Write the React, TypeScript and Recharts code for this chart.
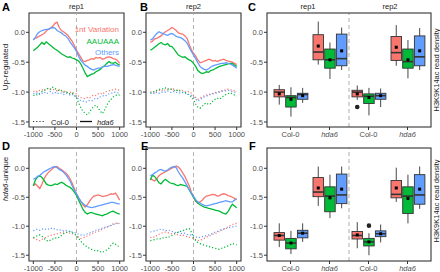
import React from "react";
import {
  LineChart, Line, BarChart, Bar, XAxis, YAxis, ReferenceLine, ReferenceArea,
} from "recharts";

const FONT = "'Liberation Sans', Arial, Helvetica, sans-serif";
const RED = "#F8766D";
const GREEN = "#00BA38";
const BLUE = "#619CFF";
const INK = "#333333";
const TICK_TXT = "#4D4D4D";
const W = 440;
const H = 272;
const XH = 14;

// distance to site (bp)
const positions = [-1000, -950, -900, -850, -800, -750, -700, -650, -600, -550, -500, -450, -400, -350, -300, -250, -200, -150, -100, -50, 0, 50, 100, 150, 200, 250, 300, 350, 400, 450, 500, 550, 600, 650, 700, 750, 800, 850, 900, 950, 1000];
const xTicks = [-1000, -500, 0, 500, 1000];
const yTicks = [-1.5, -1, -0.5, 0];

// A: rep1, up-regulated
const aRedHda6 = [-0.12, -0.10, -0.08, -0.06, -0.04, -0.02, 0.02, 0.05, 0.07, 0.10, 0.15, 0.17, 0.08, 0.03, 0.01, -0.02, -0.05, -0.10, -0.15, -0.22, -0.30, -0.36, -0.42, -0.48, -0.49, -0.47, -0.46, -0.44, -0.45, -0.42, -0.43, -0.42, -0.45, -0.44, -0.42, -0.41, -0.42, -0.44, -0.45, -0.47, -0.52];
const aGreenHda6 = [-0.31, -0.28, -0.25, -0.21, -0.17, -0.20, -0.16, -0.19, -0.22, -0.25, -0.28, -0.30, -0.33, -0.36, -0.38, -0.40, -0.42, -0.41, -0.43, -0.44, -0.46, -0.48, -0.53, -0.60, -0.68, -0.74, -0.72, -0.70, -0.69, -0.66, -0.64, -0.62, -0.58, -0.56, -0.52, -0.49, -0.51, -0.52, -0.50, -0.53, -0.55];
const aBlueHda6 = [-0.13, -0.08, -0.02, 0.01, 0.03, 0.04, 0.05, 0.05, 0.07, 0.08, 0.07, 0.03, 0.01, -0.01, -0.04, -0.06, -0.10, -0.16, -0.21, -0.26, -0.32, -0.40, -0.47, -0.51, -0.55, -0.57, -0.60, -0.62, -0.63, -0.61, -0.60, -0.60, -0.58, -0.57, -0.57, -0.56, -0.55, -0.54, -0.55, -0.56, -0.57];
const aRedCol = [-0.99, -0.98, -1.00, -0.97, -0.96, -0.98, -0.95, -0.94, -0.96, -0.95, -0.97, -0.98, -0.96, -0.99, -1.00, -0.98, -1.01, -1.00, -1.02, -1.01, -1.03, -1.07, -1.09, -1.10, -1.11, -1.09, -1.10, -1.07, -1.05, -1.06, -1.03, -1.02, -1.04, -1.00, -0.99, -0.98, -0.97, -0.96, -0.95, -0.96, -0.97];
const aGreenCol = [-1.06, -1.04, -1.05, -1.02, -0.99, -0.97, -0.95, -0.93, -0.95, -0.92, -0.94, -0.96, -0.98, -0.97, -1.00, -0.99, -1.01, -1.03, -1.02, -1.05, -1.10, -1.18, -1.26, -1.32, -1.36, -1.38, -1.34, -1.28, -1.24, -1.22, -1.26, -1.32, -1.36, -1.30, -1.22, -1.16, -1.12, -1.08, -1.06, -1.04, -1.05];
const aBlueCol = [-1.02, -1.03, -1.01, -1.04, -1.02, -1.00, -1.03, -1.01, -0.99, -1.02, -1.00, -1.03, -1.01, -1.02, -1.04, -1.02, -1.03, -1.05, -1.04, -1.06, -1.08, -1.12, -1.14, -1.15, -1.17, -1.16, -1.14, -1.15, -1.12, -1.10, -1.11, -1.08, -1.07, -1.05, -1.06, -1.03, -1.02, -1.01, -1.00, -1.01, -1.02];

// B: rep2, up-regulated
const bRedHda6 = [-0.17, -0.15, -0.11, -0.10, -0.08, -0.06, -0.02, 0.01, 0.03, 0.05, 0.08, 0.06, 0.03, -0.01, -0.02, -0.03, -0.06, -0.10, -0.20, -0.29, -0.35, -0.40, -0.46, -0.51, -0.50, -0.48, -0.47, -0.45, -0.46, -0.48, -0.47, -0.49, -0.47, -0.46, -0.45, -0.47, -0.48, -0.49, -0.50, -0.52, -0.54];
const bGreenHda6 = [-0.30, -0.28, -0.25, -0.22, -0.19, -0.17, -0.20, -0.21, -0.19, -0.23, -0.24, -0.28, -0.33, -0.38, -0.40, -0.42, -0.41, -0.44, -0.46, -0.48, -0.52, -0.57, -0.64, -0.67, -0.69, -0.68, -0.66, -0.67, -0.64, -0.63, -0.61, -0.59, -0.57, -0.56, -0.55, -0.54, -0.53, -0.52, -0.52, -0.55, -0.57];
const bBlueHda6 = [-0.13, -0.11, -0.06, -0.02, 0.01, -0.01, -0.02, -0.04, -0.05, -0.03, -0.02, -0.04, -0.07, -0.08, -0.09, -0.11, -0.14, -0.18, -0.25, -0.32, -0.38, -0.44, -0.51, -0.57, -0.60, -0.62, -0.63, -0.61, -0.58, -0.56, -0.55, -0.54, -0.53, -0.52, -0.52, -0.51, -0.52, -0.53, -0.55, -0.57, -0.60];
const bRedCol = [-1.00, -0.99, -1.01, -0.98, -0.97, -0.99, -0.96, -0.97, -0.95, -0.96, -0.94, -0.95, -0.97, -0.96, -0.98, -0.97, -0.99, -1.00, -0.99, -1.02, -1.05, -1.09, -1.12, -1.10, -1.08, -1.06, -1.05, -1.03, -1.04, -1.02, -1.01, -1.00, -0.99, -0.98, -0.97, -0.96, -0.95, -0.96, -0.97, -0.98, -0.99];
const bGreenCol = [-1.02, -1.00, -0.99, -0.97, -0.96, -0.94, -0.95, -0.93, -0.94, -0.96, -0.95, -0.97, -0.98, -0.96, -0.99, -1.01, -1.00, -1.03, -1.05, -1.08, -1.13, -1.20, -1.25, -1.27, -1.24, -1.20, -1.18, -1.21, -1.19, -1.15, -1.12, -1.10, -1.12, -1.09, -1.06, -1.04, -1.03, -1.01, -1.03, -1.05, -1.07];
const bBlueCol = [-1.02, -1.01, -1.03, -1.00, -1.02, -1.01, -0.99, -1.00, -0.98, -1.00, -1.01, -0.99, -1.00, -1.02, -1.01, -1.00, -1.02, -1.03, -1.04, -1.05, -1.08, -1.12, -1.15, -1.13, -1.10, -1.08, -1.07, -1.05, -1.04, -1.03, -1.02, -1.01, -1.00, -0.99, -0.98, -0.98, -0.97, -0.98, -0.99, -1.00, -1.01];

// D: rep1, hda6-unique
const dRedHda6 = [-0.30, -0.27, -0.31, -0.35, -0.27, -0.18, -0.12, -0.07, -0.04, 0.00, 0.02, 0.03, 0.00, -0.02, -0.05, -0.08, -0.12, -0.18, -0.26, -0.35, -0.44, -0.51, -0.57, -0.63, -0.67, -0.63, -0.57, -0.52, -0.48, -0.47, -0.46, -0.47, -0.49, -0.48, -0.47, -0.46, -0.44, -0.45, -0.43, -0.48, -0.55];
const dGreenHda6 = [-0.30, -0.20, -0.15, -0.13, -0.16, -0.21, -0.27, -0.29, -0.30, -0.29, -0.27, -0.28, -0.26, -0.24, -0.26, -0.29, -0.31, -0.33, -0.36, -0.41, -0.47, -0.55, -0.63, -0.71, -0.76, -0.79, -0.77, -0.76, -0.78, -0.79, -0.80, -0.81, -0.82, -0.80, -0.79, -0.77, -0.75, -0.74, -0.76, -0.78, -0.79];
const dBlueHda6 = [-0.19, -0.17, -0.14, -0.12, -0.09, -0.06, -0.04, -0.02, 0.00, 0.02, 0.03, 0.01, -0.02, -0.04, -0.07, -0.11, -0.16, -0.22, -0.30, -0.38, -0.44, -0.51, -0.57, -0.61, -0.64, -0.66, -0.67, -0.68, -0.67, -0.66, -0.65, -0.64, -0.63, -0.62, -0.61, -0.60, -0.59, -0.59, -0.60, -0.61, -0.62];
const dRedCol = [-1.20, -1.22, -1.24, -1.25, -1.23, -1.21, -1.19, -1.17, -1.16, -1.15, -1.14, -1.13, -1.12, -1.11, -1.10, -1.11, -1.10, -1.12, -1.13, -1.14, -1.16, -1.19, -1.21, -1.20, -1.19, -1.17, -1.15, -1.13, -1.11, -1.10, -1.09, -1.07, -1.05, -1.03, -1.02, -1.00, -0.98, -0.96, -0.95, -0.94, -0.96];
const dGreenCol = [-1.20, -1.18, -1.16, -1.15, -1.17, -1.21, -1.24, -1.26, -1.24, -1.22, -1.20, -1.21, -1.19, -1.16, -1.13, -1.11, -1.10, -1.09, -1.11, -1.13, -1.16, -1.21, -1.26, -1.30, -1.33, -1.36, -1.38, -1.40, -1.41, -1.43, -1.42, -1.44, -1.45, -1.43, -1.41, -1.38, -1.33, -1.29, -1.31, -1.34, -1.35];
const dBlueCol = [-1.08, -1.06, -1.05, -1.07, -1.05, -1.04, -1.06, -1.05, -1.03, -1.05, -1.04, -1.06, -1.07, -1.06, -1.08, -1.07, -1.09, -1.08, -1.10, -1.11, -1.12, -1.14, -1.15, -1.16, -1.15, -1.13, -1.12, -1.10, -1.09, -1.07, -1.06, -1.05, -1.03, -1.02, -1.01, -1.00, -0.99, -0.97, -0.96, -0.95, -0.96];

// E: rep2, hda6-unique
const eRedHda6 = [-0.18, -0.20, -0.22, -0.18, -0.13, -0.10, -0.08, -0.06, -0.04, -0.02, 0.00, 0.02, 0.04, 0.02, -0.02, -0.08, -0.14, -0.22, -0.30, -0.41, -0.50, -0.57, -0.60, -0.58, -0.55, -0.51, -0.48, -0.47, -0.46, -0.45, -0.46, -0.48, -0.47, -0.45, -0.44, -0.45, -0.47, -0.48, -0.50, -0.52, -0.54];
const eGreenHda6 = [-0.20, -0.12, -0.14, -0.19, -0.25, -0.27, -0.22, -0.19, -0.22, -0.25, -0.26, -0.27, -0.29, -0.30, -0.28, -0.29, -0.30, -0.31, -0.37, -0.44, -0.50, -0.56, -0.60, -0.63, -0.65, -0.67, -0.68, -0.69, -0.70, -0.71, -0.72, -0.73, -0.74, -0.76, -0.78, -0.79, -0.75, -0.68, -0.62, -0.65, -0.68];
const eBlueHda6 = [-0.13, -0.11, -0.08, -0.06, -0.03, -0.02, -0.04, -0.05, -0.03, 0.00, 0.02, 0.03, 0.01, -0.06, -0.12, -0.17, -0.23, -0.30, -0.37, -0.43, -0.48, -0.54, -0.58, -0.60, -0.62, -0.64, -0.65, -0.64, -0.63, -0.62, -0.61, -0.60, -0.59, -0.58, -0.57, -0.56, -0.57, -0.58, -0.58, -0.55, -0.53];
const eRedCol = [-1.20, -1.18, -1.19, -1.16, -1.14, -1.12, -1.11, -1.10, -1.11, -1.12, -1.13, -1.12, -1.14, -1.15, -1.16, -1.15, -1.17, -1.18, -1.19, -1.20, -1.21, -1.23, -1.25, -1.24, -1.23, -1.21, -1.19, -1.17, -1.16, -1.14, -1.13, -1.11, -1.09, -1.07, -1.05, -1.03, -1.01, -0.99, -0.97, -0.96, -0.95];
const eGreenCol = [-1.25, -1.24, -1.23, -1.22, -1.21, -1.22, -1.20, -1.19, -1.20, -1.18, -1.16, -1.14, -1.12, -1.10, -1.09, -1.08, -1.06, -1.05, -1.04, -1.10, -1.20, -1.25, -1.28, -1.30, -1.31, -1.33, -1.34, -1.35, -1.36, -1.37, -1.38, -1.39, -1.40, -1.38, -1.37, -1.35, -1.34, -1.32, -1.30, -1.31, -1.32];
const eBlueCol = [-1.10, -1.09, -1.08, -1.07, -1.06, -1.05, -1.06, -1.07, -1.08, -1.07, -1.09, -1.10, -1.11, -1.10, -1.12, -1.13, -1.12, -1.14, -1.15, -1.15, -1.16, -1.18, -1.20, -1.19, -1.18, -1.17, -1.16, -1.15, -1.14, -1.12, -1.10, -1.09, -1.07, -1.06, -1.05, -1.04, -1.03, -1.02, -1.01, -1.00, -1.00];

// box plots: Col-0 rep1, hda6 rep1, Col-0 rep2, hda6 rep2
const boxGroups = ["Col-0", "hda6", "Col-0", "hda6"];
const boxReps = ["rep1", "rep1", "rep2", "rep2"];

type Box = { lo: number; q1: number; med: number; q3: number; hi: number; mean: number; out?: number[] };

const cRed: Box[] = [
  { lo: -1.21, q1: -1.08, med: -1.00, q3: -0.96, hi: -0.88, mean: -1.03 },
  { lo: -0.54, q1: -0.46, med: -0.33, q3: -0.04, hi: 0.18, mean: -0.23 },
  { lo: -1.13, q1: -1.08, med: -1.00, q3: -0.97, hi: -0.89, mean: -1.03, out: [-1.25] },
  { lo: -0.56, q1: -0.47, med: -0.34, q3: -0.07, hi: 0.12, mean: -0.25 },
];
const cGreen: Box[] = [
  { lo: -1.41, q1: -1.25, med: -1.09, q3: -1.06, hi: -0.92, mean: -1.12 },
  { lo: -0.78, q1: -0.60, med: -0.46, q3: -0.28, hi: -0.17, mean: -0.46 },
  { lo: -1.39, q1: -1.19, med: -1.07, q3: -1.03, hi: -0.93, mean: -1.09 },
  { lo: -0.77, q1: -0.60, med: -0.49, q3: -0.28, hi: -0.13, mean: -0.46 },
];
const cBlue: Box[] = [
  { lo: -1.18, q1: -1.12, med: -1.04, q3: -1.02, hi: -0.93, mean: -1.06 },
  { lo: -0.63, q1: -0.56, med: -0.44, q3: -0.03, hi: 0.08, mean: -0.31 },
  { lo: -1.25, q1: -1.12, med: -1.06, q3: -1.02, hi: -0.94, mean: -1.06 },
  { lo: -0.63, q1: -0.56, med: -0.41, q3: -0.06, hi: 0.07, mean: -0.31 },
];
const fRed: Box[] = [
  { lo: -1.36, q1: -1.24, med: -1.16, q3: -1.11, hi: -0.95, mean: -1.16 },
  { lo: -0.65, q1: -0.49, med: -0.41, q3: -0.16, hi: 0.03, mean: -0.34 },
  { lo: -1.38, q1: -1.22, med: -1.16, q3: -1.09, hi: -0.93, mean: -1.15 },
  { lo: -0.58, q1: -0.51, med: -0.45, q3: -0.21, hi: 0.01, mean: -0.34 },
];
const fGreen: Box[] = [
  { lo: -1.48, q1: -1.39, med: -1.29, q3: -1.21, hi: -1.08, mean: -1.29 },
  { lo: -0.86, q1: -0.75, med: -0.48, q3: -0.32, hi: -0.11, mean: -0.51 },
  { lo: -1.50, q1: -1.34, med: -1.27, q3: -1.21, hi: -1.12, mean: -1.27, out: [-0.99] },
  { lo: -0.95, q1: -0.78, med: -0.48, q3: -0.32, hi: -0.11, mean: -0.52 },
];
const fBlue: Box[] = [
  { lo: -1.27, q1: -1.20, med: -1.12, q3: -1.07, hi: -0.95, mean: -1.12 },
  { lo: -0.69, q1: -0.61, med: -0.46, q3: -0.10, hi: 0.03, mean: -0.36 },
  { lo: -1.28, q1: -1.18, med: -1.13, q3: -1.08, hi: -0.97, mean: -1.13 },
  { lo: -0.70, q1: -0.62, med: -0.46, q3: -0.11, hi: 0.03, mean: -0.36 },
];

type Rect = { x0: number; x1: number; y0: number; y1: number };
const topDomain: [number, number] = [-1.584, 0.323];
const bottomDomain: [number, number] = [-1.6, 0.35];

const tickStyle = { fontSize: 7.5, fill: TICK_TXT, fontFamily: FONT };
const fmt = (v: number) => v.toFixed(1);

function margins(r: Rect) {
  return { top: r.y0, left: 0, right: W - r.x1, bottom: H - r.y1 - XH };
}

function ProfilePanel({ rect, domain, hda6, col }: { rect: Rect; domain: [number, number]; hda6: number[][]; col: number[][] }) {
  const rows = positions.map((x, i) => ({
    x, r: hda6[0][i], g: hda6[1][i], b: hda6[2][i], rc: col[0][i], gc: col[1][i], bc: col[2][i],
  }));
  const solid = { type: "linear" as const, dot: false, isAnimationActive: false, strokeWidth: 1.3 };
  const dotted = { ...solid, strokeWidth: 1.2, strokeDasharray: "1.2 2" };
  return (
    <div style={{ position: "absolute", left: 0, top: 0 }}>
      <LineChart width={W} height={H} data={rows} margin={margins(rect)}>
        <XAxis type="number" dataKey="x" domain={[-1100, 1100]} ticks={xTicks} allowDataOverflow
          height={XH} axisLine={false} tickSize={3} tickMargin={2} interval={0}
          tick={tickStyle} tickLine={{ stroke: INK }} />
        <YAxis type="number" domain={domain} ticks={yTicks} allowDataOverflow width={rect.x0}
          axisLine={false} tickSize={3} tickMargin={1} interval={0} tickFormatter={fmt}
          tick={tickStyle} tickLine={{ stroke: INK }} />
        <ReferenceLine x={0} stroke="#AAAAAA" strokeDasharray="4 3" strokeWidth={0.9} />
        <Line dataKey="rc" stroke={RED} {...dotted} />
        <Line dataKey="gc" stroke={GREEN} {...dotted} />
        <Line dataKey="bc" stroke={BLUE} {...dotted} />
        <Line dataKey="r" stroke={RED} {...solid} />
        <Line dataKey="g" stroke={GREEN} {...solid} />
        <Line dataKey="b" stroke={BLUE} {...solid} />
        <ReferenceArea x1={-1100} x2={1100} y1={domain[0]} y2={domain[1]} fill="none"
          stroke={INK} strokeWidth={1.1} strokeOpacity={1} ifOverflow="visible" />
      </LineChart>
    </div>
  );
}

function BoxShape(props: any) {
  const { x, y, width, height, payload, k, color } = props;
  const s: Box = payload[k];
  const top = Math.min(y, y + height);
  const h = Math.abs(height);
  const ppu = h / (s.hi - s.lo);
  const py = (v: number) => top + (s.hi - v) * ppu;
  const cx = x + width / 2;
  return (
    <g>
      <line x1={cx} x2={cx} y1={py(s.hi)} y2={py(s.lo)} stroke={INK} strokeWidth={0.9} />
      <rect x={x} y={py(s.q3)} width={width} height={py(s.q1) - py(s.q3)} fill={color} stroke={INK} strokeWidth={0.9} />
      <line x1={x} x2={x + width} y1={py(s.med)} y2={py(s.med)} stroke={INK} strokeWidth={1.6} />
      <rect x={cx - 1.5} y={py(s.mean) - 1.5} width={3} height={3} fill="#000" />
      {(s.out || []).map((o, i) => (
        <circle key={i} cx={cx} cy={py(o)} r={2.3} fill="#222" />
      ))}
    </g>
  );
}

function GroupTick(props: any) {
  const { x, y, payload } = props;
  const g = String(payload.value).split(" ")[0];
  return (
    <text x={x} y={y} dy="0.71em" textAnchor="middle" fontSize={7.5} fill={TICK_TXT}
      fontFamily={FONT} fontStyle={g === "hda6" ? "italic" : "normal"}>{g}</text>
  );
}

function BoxPanel({ rect, domain, red, green, blue }: { rect: Rect; domain: [number, number]; red: Box[]; green: Box[]; blue: Box[] }) {
  const rows = boxGroups.map((g, i) => ({ key: `${g} ${boxReps[i]}`, red: red[i], green: green[i], blue: blue[i] }));
  const bar = (k: "red" | "green" | "blue", color: string) => (
    <Bar dataKey={(d: any) => [d[k].lo, d[k].hi]} fill={color} isAnimationActive={false}
      shape={(p: any) => <BoxShape {...p} k={k} color={color} />} />
  );
  return (
    <div style={{ position: "absolute", left: 0, top: 0 }}>
      <BarChart width={W} height={H} data={rows} margin={margins(rect)} barSize={10.5} barGap={1.2}>
        <XAxis dataKey="key" type="category" padding={{ left: 4, right: 4 }} height={XH}
          axisLine={false} tickSize={3} tickMargin={2} interval={0} tick={<GroupTick />}
          tickLine={{ stroke: INK }} />
        <YAxis type="number" domain={domain} ticks={yTicks} allowDataOverflow width={rect.x0}
          axisLine={false} tickSize={3} tickMargin={1} interval={0} tickFormatter={fmt}
          tick={tickStyle} tickLine={{ stroke: INK }} />
        <ReferenceLine x={rows[2].key} position="start" stroke="#BBBBBB" strokeDasharray="4 3" strokeWidth={1.2} />
        {bar("red", RED)}
        {bar("green", GREEN)}
        {bar("blue", BLUE)}
      </BarChart>
    </div>
  );
}

const A: Rect = { x0: 29, x1: 124, y0: 13, y1: 127 };
const B: Rect = { x0: 146, x1: 241, y0: 13, y1: 127 };
const C: Rect = { x0: 267, x1: 431, y0: 13, y1: 127 };
const D: Rect = { x0: 29, x1: 124, y0: 148, y1: 261 };
const E: Rect = { x0: 146, x1: 241, y0: 148, y1: 261 };
const F: Rect = { x0: 267, x1: 431, y0: 148, y1: 261 };

function Labels() {
  const t = { fontFamily: FONT, fill: "#1A1A1A" };
  const letter = { ...t, fontSize: 11, fontWeight: 700, fill: "#000" };
  return (
    <svg width={W} height={H} style={{ position: "absolute", left: 0, top: 0 }}>
      {[C, F].map((r, i) => (
        <rect key={i} x={r.x0} y={r.y0} width={r.x1 - r.x0} height={r.y1 - r.y0} fill="none" stroke={INK} strokeWidth={1.1} />
      ))}
      <text x={2} y={11} {...letter}>A</text>
      <text x={140} y={11} {...letter}>B</text>
      <text x={248} y={11} {...letter}>C</text>
      <text x={2} y={150} {...letter}>D</text>
      <text x={141} y={150} {...letter}>E</text>
      <text x={249} y={150} {...letter}>F</text>

      <g fontSize={7.5} textAnchor="middle" {...t}>
        <text x={76.5} y={9}>rep1</text>
        <text x={193.5} y={9}>rep2</text>
        <text x={308} y={9}>rep1</text>
        <text x={390} y={9}>rep2</text>
      </g>

      <text transform="translate(8,67) rotate(-90)" textAnchor="middle" fontSize={8} {...t}>Up-regulated</text>
      <text transform="translate(8,179) rotate(-90)" textAnchor="middle" fontSize={8} {...t}>
        <tspan fontStyle="italic">hda6</tspan>-unique
      </text>
      <text transform="translate(439,70) rotate(-90)" textAnchor="middle" fontSize={7.5} {...t}>H3K9K14ac read density</text>
      <text transform="translate(439,201) rotate(-90)" textAnchor="middle" fontSize={7.5} {...t}>H3K9K14ac read density</text>

      <g fontSize={8} textAnchor="end" fontFamily={FONT}>
        <text x={119} y={32} fill={RED}>1nt Variation</text>
        <text x={119} y={44} fill={GREEN}>AAUAAA</text>
        <text x={119} y={55} fill={BLUE}>Others</text>
      </g>

      <line x1={33} x2={45} y1={121.5} y2={121.5} stroke={INK} strokeWidth={1.1} strokeDasharray="1.2 2" />
      <text x={51} y={124.5} fontSize={7.5} {...t}>Col-0</text>
      <line x1={80} x2={92} y1={121.5} y2={121.5} stroke="#111" strokeWidth={1.3} />
      <text x={97} y={124.5} fontSize={7.5} fontStyle="italic" {...t}>hda6</text>
    </svg>
  );
}

export default function App() {
  return (
    <div style={{ position: "absolute", left: 0, top: 0, width: W, height: H, background: "#fff", overflow: "hidden" }}>
      <ProfilePanel rect={A} domain={topDomain} hda6={[aRedHda6, aGreenHda6, aBlueHda6]} col={[aRedCol, aGreenCol, aBlueCol]} />
      <ProfilePanel rect={B} domain={topDomain} hda6={[bRedHda6, bGreenHda6, bBlueHda6]} col={[bRedCol, bGreenCol, bBlueCol]} />
      <BoxPanel rect={C} domain={topDomain} red={cRed} green={cGreen} blue={cBlue} />
      <ProfilePanel rect={D} domain={bottomDomain} hda6={[dRedHda6, dGreenHda6, dBlueHda6]} col={[dRedCol, dGreenCol, dBlueCol]} />
      <ProfilePanel rect={E} domain={bottomDomain} hda6={[eRedHda6, eGreenHda6, eBlueHda6]} col={[eRedCol, eGreenCol, eBlueCol]} />
      <BoxPanel rect={F} domain={bottomDomain} red={fRed} green={fGreen} blue={fBlue} />
      <Labels />
    </div>
  );
}
